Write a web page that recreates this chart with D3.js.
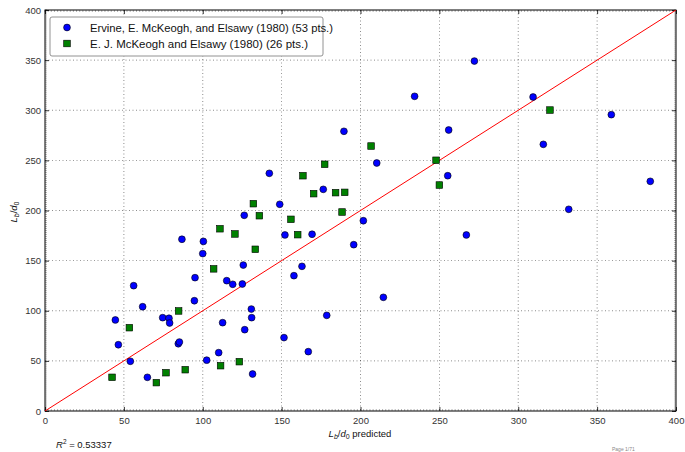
<!DOCTYPE html>
<html><head><meta charset="utf-8">
<script src="https://cdn.jsdelivr.net/npm/d3@7"></script>
<style>
html,body{margin:0;padding:0;background:#fff;}
svg{display:block;font-family:"Liberation Sans","DejaVu Sans",sans-serif;}
</style></head>
<body>
<svg id="chart" width="685" height="452"></svg>
<script>
const ervineX = [86.8,100.4,100.0,95.1,56.2,94.7,61.9,44.6,74.6,78.6,79.0,46.5,84.5,85.2,54.1,102.5,64.9,110.1,210.3,142.2,176.4,148.8,126.3,201.8,152.1,169.3,195.7,125.7,162.9,157.8,115.2,119.0,125.1,130.8,131.0,112.6,178.6,126.6,151.5,166.9,131.6,272.2,234.3,309.4,359.0,255.9,315.9,255.3,383.7,332.0,267.1,189.5,214.5];
const ervineY = [171.3,169.2,157.0,133.0,125.0,110.0,104.0,90.8,93.1,92.5,87.8,66.1,67.1,68.8,49.6,50.7,33.6,58.2,247.4,237.1,221.1,206.2,195.2,189.8,175.6,176.3,165.9,145.6,144.3,135.0,130.0,126.4,126.7,101.7,93.1,88.1,95.4,81.1,73.2,59.2,36.9,349.1,313.9,313.2,295.6,280.3,266.0,234.7,229.1,201.2,175.6,279.0,113.4];
const mckX = [42.5,53.5,84.7,70.6,76.7,88.9,106.9,110.9,111.3,177.3,163.5,170.3,184.2,190.0,132.1,135.9,188.3,155.9,120.4,160.2,133.3,123.2,320.1,247.9,250.0,206.7];
const mckY = [33.6,83.1,99.8,28.3,38.2,41.2,141.8,181.8,45.2,246.1,234.7,216.8,217.8,218.1,206.8,194.8,198.5,191.2,176.6,175.9,161.3,49.2,300.2,250.1,225.4,264.3];
const seriesNames = ["Ervine, E. McKeogh, and Elsawy (1980) (53 pts.)","E. J. McKeogh and Elsawy (1980) (26 pts.)"];
const xTicks = [0,50,100,150,200,250,300,350,400];
const yTicks = [0,50,100,150,200,250,300,350,400];
const r2Text = "0.53337";

const svg = d3.select("#chart");
const L = 45, R = 676, T = 10, B = 411;
const x = d3.scaleLinear().domain([0,400]).range([L,R]);
const y = d3.scaleLinear().domain([0,400]).range([B,T]);

// grid
const g = svg.append("g");
g.selectAll(".gx").data(xTicks.slice(1,-1)).join("line")
  .attr("x1",d=>x(d)).attr("x2",d=>x(d)).attr("y1",T).attr("y2",B)
  .attr("stroke","#000").attr("stroke-width",0.6).attr("stroke-dasharray","1,2.5").attr("opacity",0.75);
g.selectAll(".gy").data(yTicks.slice(1,-1)).join("line")
  .attr("y1",d=>y(d)).attr("y2",d=>y(d)).attr("x1",L).attr("x2",R)
  .attr("stroke","#000").attr("stroke-width",0.6).attr("stroke-dasharray","1,2.5").attr("opacity",0.75);

// minor ticks
const minor = d3.range(0,401,2);
svg.append("g").selectAll("line").data(minor).join("line")
  .attr("x1",d=>x(d)).attr("x2",d=>x(d)).attr("y1",B).attr("y2",B-2)
  .attr("stroke","#666").attr("stroke-width",0.5);
svg.append("g").selectAll("line").data(minor).join("line")
  .attr("y1",d=>y(d)).attr("y2",d=>y(d)).attr("x1",L).attr("x2",L+2)
  .attr("stroke","#666").attr("stroke-width",0.5);
svg.append("g").selectAll("line").data(minor).join("line")
  .attr("x1",d=>x(d)).attr("x2",d=>x(d)).attr("y1",T).attr("y2",T+2)
  .attr("stroke","#666").attr("stroke-width",0.5);
svg.append("g").selectAll("line").data(minor).join("line")
  .attr("y1",d=>y(d)).attr("y2",d=>y(d)).attr("x1",R).attr("x2",R-2)
  .attr("stroke","#666").attr("stroke-width",0.5);

// axes
const xAxis = d3.axisBottom(x).tickValues(xTicks).tickSize(-4).tickPadding(4).tickFormat(d3.format("d"));
const yAxis = d3.axisLeft(y).tickValues(yTicks).tickSize(-4).tickPadding(4).tickFormat(d3.format("d"));
const xa = svg.append("g").attr("transform",`translate(0,${B})`).call(xAxis);
const ya = svg.append("g").attr("transform",`translate(${L},0)`).call(yAxis);
const xt = svg.append("g").attr("transform",`translate(0,${T})`).call(d3.axisTop(x).tickValues(xTicks).tickSize(-4).tickFormat(""));
const yr = svg.append("g").attr("transform",`translate(${R},0)`).call(d3.axisRight(y).tickValues(yTicks).tickSize(-4).tickFormat(""));
[xa,ya,xt,yr].forEach(a=>{a.select(".domain").remove();a.selectAll("line").attr("stroke","#000").attr("stroke-width",0.8);
  a.selectAll("text").attr("font-size",9.5).attr("fill","#333").attr("font-family","Liberation Sans, sans-serif");});
xa.selectAll("text").attr("dy","0.9em");

// frame
svg.append("rect").attr("x",L).attr("y",T).attr("width",R-L).attr("height",B-T)
  .attr("fill","none").attr("stroke","#000").attr("stroke-width",1);

// clip for data
svg.append("clipPath").attr("id","clip").append("rect").attr("x",L).attr("y",T).attr("width",R-L).attr("height",B-T);
const plot = svg.append("g").attr("clip-path","url(#clip)");

// identity line
plot.append("line").attr("x1",x(0)).attr("y1",y(0)).attr("x2",x(400)).attr("y2",y(400))
  .attr("stroke","#ff0000").attr("stroke-width",1);

const ervine = ervineX.map((v,i)=>({x:v,y:ervineY[i]}));
const mck = mckX.map((v,i)=>({x:v,y:mckY[i]}));

plot.append("g").selectAll("circle").data(ervine).join("circle")
  .attr("cx",d=>x(d.x)).attr("cy",d=>y(d.y)).attr("r",3.4)
  .attr("fill","#0000ff").attr("stroke","#000").attr("stroke-width",0.6);
plot.append("g").selectAll("rect").data(mck).join("rect")
  .attr("x",d=>x(d.x)-3.3).attr("y",d=>y(d.y)-3.3).attr("width",6.6).attr("height",6.6)
  .attr("fill","#008000").attr("stroke","#000").attr("stroke-width",0.6);

// legend
const lg = svg.append("g");
lg.append("rect").attr("x",50).attr("y",17).attr("width",273).attr("height",39).attr("rx",2)
  .attr("fill","#fff").attr("stroke","#777").attr("stroke-width",0.8);
lg.append("circle").attr("cx",67).attr("cy",27.5).attr("r",3.4).attr("fill","#0000ff").attr("stroke","#000").attr("stroke-width",0.6);
lg.append("rect").attr("x",67-3.3).attr("y",43.5-3.3).attr("width",6.6).attr("height",6.6).attr("fill","#008000").attr("stroke","#000").attr("stroke-width",0.6);
lg.append("text").attr("x",90).attr("y",31.5).attr("font-size",11.5).attr("fill","#111")
  .attr("textLength",243).attr("lengthAdjust","spacingAndGlyphs").text(seriesNames[0]);
lg.append("text").attr("x",90).attr("y",47.5).attr("font-size",11.5).attr("fill","#111")
  .attr("textLength",218).attr("lengthAdjust","spacingAndGlyphs").text(seriesNames[1]);

// axis labels
const xl = svg.append("text").attr("x",360).attr("y",437).attr("text-anchor","middle").attr("font-size",9.5).attr("fill","#111");
xl.append("tspan").attr("font-style","italic").text("L");
xl.append("tspan").attr("font-style","italic").attr("font-size",7).attr("dy",2).text("b");
xl.append("tspan").attr("dy",-2).text("/");
xl.append("tspan").attr("font-style","italic").text("d");
xl.append("tspan").attr("font-size",7).attr("dy",2).text("0");
xl.append("tspan").attr("dy",-2).text(" predicted");

const yl = svg.append("text").attr("transform","translate(17,212) rotate(-90)").attr("text-anchor","middle").attr("font-size",9.5).attr("fill","#111");
yl.append("tspan").attr("font-style","italic").text("L");
yl.append("tspan").attr("font-style","italic").attr("font-size",7).attr("dy",2).text("b");
yl.append("tspan").attr("dy",-2).text("/");
yl.append("tspan").attr("font-style","italic").text("d");
yl.append("tspan").attr("font-size",7).attr("dy",2).text("0");

const r2 = svg.append("text").attr("x",56).attr("y",448).attr("font-size",9.5).attr("fill","#111");
r2.append("tspan").attr("font-style","italic").text("R");
r2.append("tspan").attr("font-size",6.5).attr("dy",-4).text("2");
r2.append("tspan").attr("dy",4).text(" = " + r2Text);

svg.append("text").attr("x",612).attr("y",451).attr("font-size",5).attr("fill","#888").text("Page 1/71");
</script>
</body></html>
